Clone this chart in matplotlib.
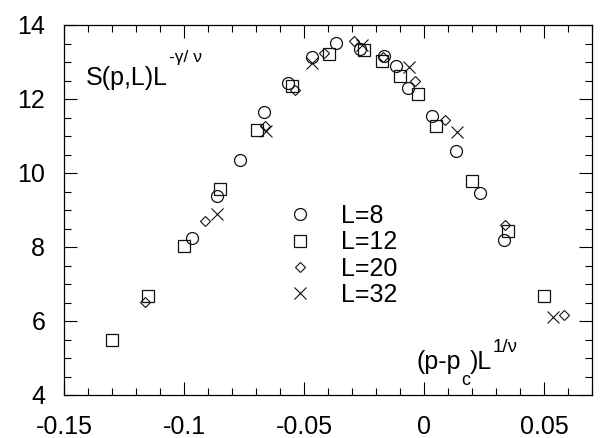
import matplotlib
matplotlib.use("Agg")
import matplotlib.pyplot as plt
from matplotlib.ticker import MultipleLocator, FixedLocator, FixedFormatter

plt.rcParams['font.family'] = ['Liberation Sans', 'DejaVu Sans']

# L=8 (daire)
x_L8 = [-0.0965, -0.0864, -0.0767, -0.0667, -0.0565, -0.0465, -0.0367, -0.0267,
        -0.0167, -0.0115, -0.0068, 0.0032, 0.0133, 0.0233, 0.0333]
y_L8 = [8.25, 9.38, 10.35, 11.64, 12.44, 13.14, 13.51, 13.34,
        13.16, 12.89, 12.31, 11.55, 10.59, 9.45, 8.19]

# L=12 (kare)
x_L12 = [-0.1299, -0.1149, -0.0999, -0.0850, -0.0697, -0.0549, -0.0397, -0.0249,
         -0.0174, -0.0099, -0.0024, 0.0051, 0.0201, 0.0351, 0.0501]
y_L12 = [5.49, 6.68, 8.03, 9.56, 11.16, 12.35, 13.22, 13.32,
         13.03, 12.63, 12.13, 11.28, 9.79, 8.44, 6.68]

# L=20 (elmas)
x_L20 = [-0.1163, -0.0913, -0.0663, -0.0538, -0.0415, -0.0292, -0.0170,
         -0.0037, 0.0088, 0.0338, 0.0585]
y_L20 = [6.51, 8.71, 11.27, 12.24, 13.23, 13.58, 13.14,
         12.49, 11.43, 8.59, 6.16]

# L=32 (çarpı)
x_L32 = [-0.0861, -0.0660, -0.0465, -0.0260, -0.0061, 0.0139, 0.0539]
y_L32 = [8.88, 11.14, 12.96, 13.46, 12.87, 11.12, 6.12]

x_ticks = [-0.15, -0.1, -0.05, 0, 0.05]
x_tick_labels = ["-0.15", "-0.1", "-0.05", "0", "0.05"]
y_ticks = [4, 6, 8, 10, 12, 14]

fig = plt.figure(figsize=(6.03, 4.38), dpi=100)
ax = fig.add_axes([64 / 603, 1 - 395 / 438, 528 / 603, 370 / 438])

renk = "#111111"
ax.plot(x_L8, y_L8, linestyle="none", marker="o", markersize=8.6,
        markerfacecolor="none", markeredgecolor=renk, markeredgewidth=0.9, label="L=8")
ax.plot(x_L12, y_L12, linestyle="none", marker="s", markersize=8.4,
        markerfacecolor="none", markeredgecolor=renk, markeredgewidth=0.9, label="L=12")
ax.plot(x_L20, y_L20, linestyle="none", marker="D", markersize=5.6,
        markerfacecolor="none", markeredgecolor=renk, markeredgewidth=0.8, label="L=20")
ax.plot(x_L32, y_L32, linestyle="none", marker="x", markersize=8.6,
        markeredgecolor=renk, markeredgewidth=0.8, label="L=32")

ax.set_xlim(-0.15, 0.07)
ax.set_ylim(4, 14)
ax.xaxis.set_major_locator(FixedLocator(x_ticks))
ax.xaxis.set_major_formatter(FixedFormatter(x_tick_labels))
ax.xaxis.set_minor_locator(MultipleLocator(0.01))
ax.yaxis.set_major_locator(FixedLocator(y_ticks))
ax.yaxis.set_minor_locator(MultipleLocator(0.5))

ax.tick_params(which="both", direction="in", top=True, right=True, width=0.8, colors="black")
ax.tick_params(which="major", length=9.5, labelsize=18)
ax.tick_params(which="minor", length=5)
ax.tick_params(axis="x", which="major", pad=14.5)
ax.tick_params(axis="y", which="major", pad=13.5)
for s in ax.spines.values():
    s.set_linewidth(0.9)

# y ekseni etiketi: S(p,L)L^(-γ/ν)
t1 = ax.text(0.042, 0.8365, "S(p,L)L", transform=ax.transAxes,
             fontsize=18, va="baseline", ha="left")
ax.annotate("-γ/ ν", xy=(1, 0.9) , xycoords=(t1, "axes fraction"),
            xytext=(0.5, 0), textcoords="offset points",
            fontsize=12.5, va="baseline", ha="left")

# x ekseni etiketi: (p-p_c)L^(1/ν)
t2 = ax.text(0.6667, 0.0703, "(p-p", transform=ax.transAxes,
             fontsize=18, va="baseline", ha="left")
t3 = ax.annotate("c", xy=(1, 0.027), xycoords=(t2, "axes fraction"),
                 xytext=(0.3, 0), textcoords="offset points",
                 fontsize=13, va="baseline", ha="left")
t4 = ax.annotate(")L", xy=(1, 0.0703), xycoords=(t3, "axes fraction"),
                 fontsize=18, va="baseline", ha="left")
ax.annotate("1/ν", xy=(1, 0.1162), xycoords=(t4, "axes fraction"),
            xytext=(0.5, 0), textcoords="offset points",
            fontsize=13.5, va="baseline", ha="left")

ax.legend(loc="upper left", bbox_to_anchor=(0.4233, 0.516), frameon=False,
          fontsize=18, handlelength=1.0, handletextpad=1.14, labelspacing=0.09,
          borderpad=0, borderaxespad=0)

fig.savefig("out.png", dpi=100)
